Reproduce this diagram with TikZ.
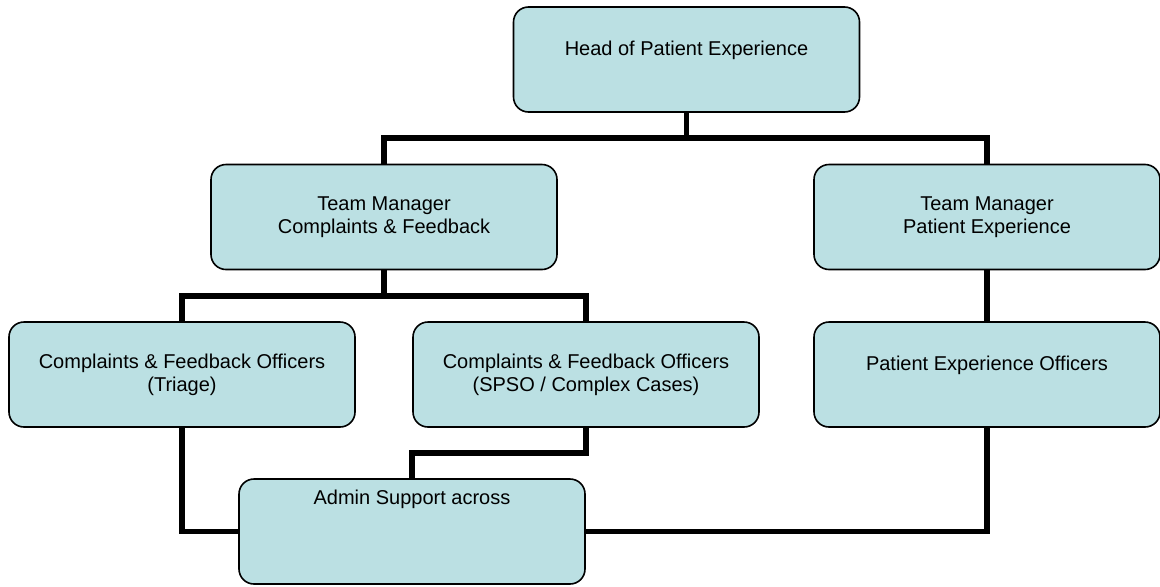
\documentclass[tikz,border=0pt]{standalone}
\usepackage{fontspec}
\setmainfont{Liberation Sans}
\usepackage{xcolor}
\usepackage{tikz}
\usetikzlibrary{positioning, calc, backgrounds}
\definecolor{OrgFill}{RGB}{187, 224, 227}
\definecolor{OrgLine}{RGB}{0, 0, 0}

\tikzset{
  orgbox/.style={draw=OrgLine, fill=OrgFill, line width=0.8pt, rounded corners=7.5pt,
    minimum width=173pt, minimum height=52.5pt, inner sep=0pt, align=center,
    font=\fontsize{10}{11.5}\selectfont},
  conn/.style={draw=black, line width=2.8pt, line join=miter}
}

\begin{document}
\begin{tikzpicture}[x=0.5pt,y=0.5pt]
  \path[use as bounding box] (0,0) rectangle (1160,586);
  % boxes
  \node[orgbox] (head)   at (686.5,526.5) {Head of Patient Experience\\ \mbox{}};
  \node[orgbox] (tmcf)   at (384,369)     {Team Manager\\Complaints \& Feedback};
  \node[orgbox] (tmpe)   at (987,369)     {Team Manager\\Patient Experience};
  \node[orgbox] (triage) at (182,211.5)   {Complaints \& Feedback Officers\\(Triage)};
  \node[orgbox] (spso)   at (586,211.5)   {Complaints \& Feedback Officers\\(SPSO / Complex Cases)};
  \node[orgbox] (peo)    at (987,211.5)   {Patient Experience Officers\\ \mbox{}};
  \node[orgbox] (admin)  at (412,54.5)    {Admin Support across\\ \mbox{}\\ \mbox{}\\ \mbox{}};
  % connectors behind the boxes
  \begin{scope}[on background layer]
    \coordinate (busA) at ($(head.south)!0.5!(head.south |- tmcf.north)$);
    \coordinate (busB) at ($(tmcf.south)!0.5!(tmcf.south |- triage.north)$);
    \coordinate (busC) at ($(spso.south)!0.5!(spso.south |- admin.north)$);
    \draw[conn] (head.south) -- (busA);
    \draw[conn] (tmcf.north) |- (busA) -| (tmpe.north);
    \draw[conn] (tmcf.south) -- (busB);
    \draw[conn] (triage.north) |- (busB) -| (spso.north);
    \draw[conn] (tmpe.south) -- (peo.north);
    \draw[conn] (triage.south) |- (admin.west);
    \draw[conn] (spso.south) -- (busC) -| (admin.north);
    \draw[conn] (peo.south) |- (admin.east);
  \end{scope}
\end{tikzpicture}
\end{document}
